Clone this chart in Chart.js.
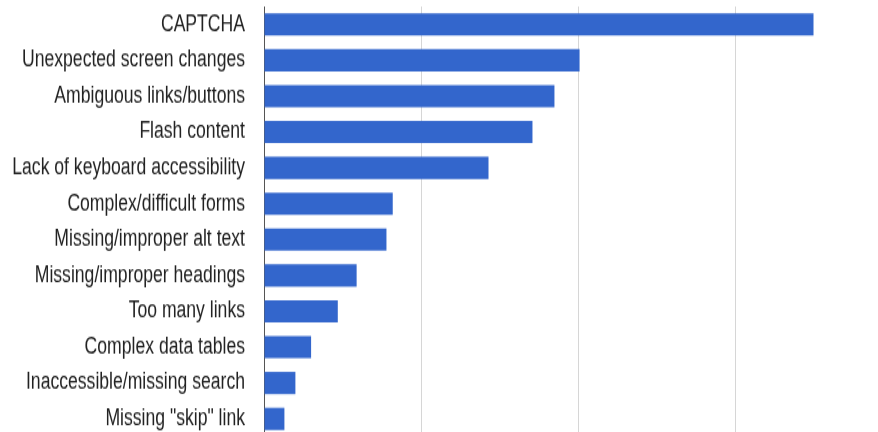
<!DOCTYPE html>
<html>
<head>
<meta charset="utf-8">
<script src="https://cdn.jsdelivr.net/npm/chart.js@4"></script>
<style>
  html, body { margin: 0; padding: 0; background: #fff; overflow: hidden; width: 878px; height: 432px; }
  /* the reference is stretched vertically, so stretch the drawing the same way */
  #wrap { transform: scaleY(1.3); transform-origin: 0 0; }
</style>
</head>
<body>
<div id="wrap">
  <canvas id="chart" width="900" height="340"></canvas>
</div>
<script>
// Problem items (most problematic first)
const categories = [
  "CAPTCHA",
  "Unexpected screen changes",
  "Ambiguous links/buttons",
  "Flash content",
  "Lack of keyboard accessibility",
  "Complex/difficult forms",
  "Missing/improper alt text",
  "Missing/improper headings",
  "Too many links",
  "Complex data tables",
  "Inaccessible/missing search",
  "Missing \"skip\" link"
];
const responses = [350, 201, 185, 171, 143, 82, 78, 59, 47, 30, 20, 13];
const gridTicks = [0, 100, 200, 300, 400];

new Chart(document.getElementById("chart"), {
  type: "bar",
  data: {
    labels: categories,
    datasets: [{
      data: responses,
      backgroundColor: "#3366cc",
      borderWidth: 0,
      barPercentage: 0.62,
      categoryPercentage: 1
    }]
  },
  options: {
    indexAxis: "y",
    responsive: false,
    animation: false,
    layout: { padding: { top: 5, right: 8, bottom: 4, left: 0 } },
    plugins: { legend: { display: false }, tooltip: { enabled: false } },
    scales: {
      x: {
        min: 0,
        max: 400,
        afterBuildTicks: scale => { scale.ticks = gridTicks.map(v => ({ value: v })); },
        ticks: { display: false },
        grid: { color: "#d6d6d6", lineWidth: 1, drawTicks: false },
        border: { display: false }
      },
      y: {
        // fixed label column, no extra space above/below the bars
        afterFit: scale => {
          scale.width = 264;
          scale.paddingTop = 0;
          scale.paddingBottom = 0;
        },
        ticks: {
          color: "#222",
          padding: 19,
          font: { family: "'Liberation Sans', Arial, sans-serif", size: 17.6 }
        },
        grid: { display: false, drawTicks: false },
        border: { display: true, color: "#555", width: 1 }
      }
    }
  }
});
</script>
</body>
</html>
